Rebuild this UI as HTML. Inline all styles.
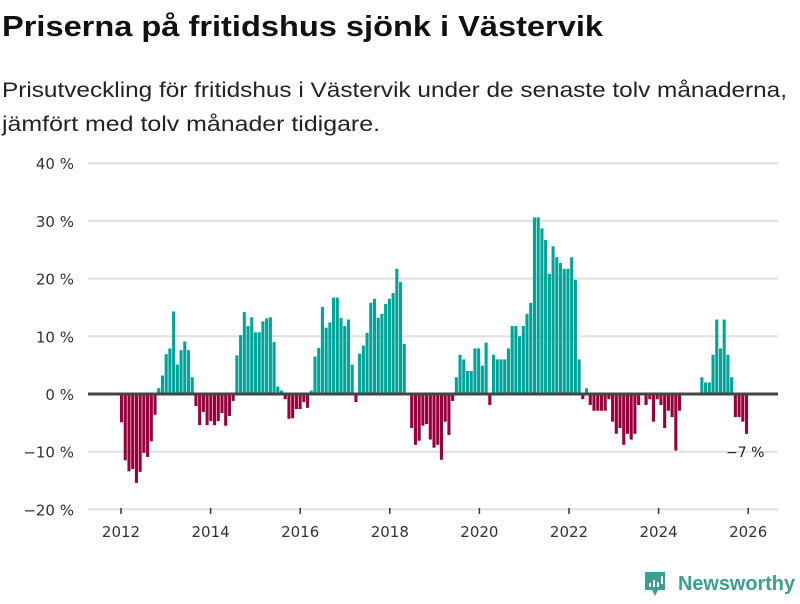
<!DOCTYPE html>
<html><head><meta charset="utf-8"><style>
body{margin:0;width:800px;height:600px;background:#fff;font-family:"DejaVu Sans","Liberation Sans",sans-serif;overflow:hidden}
</style></head><body>
<svg width="800" height="600" xmlns="http://www.w3.org/2000/svg">
<text x="2" y="36" font-size="29" font-weight="bold" fill="#111" textLength="601" lengthAdjust="spacingAndGlyphs" font-family="Liberation Sans">Priserna på fritidshus sjönk i Västervik</text>
<text x="2" y="97" font-size="21" fill="#222" textLength="785" lengthAdjust="spacingAndGlyphs" font-family="Liberation Sans">Prisutveckling för fritidshus i Västervik under de senaste tolv månaderna,</text>
<text x="2" y="131" font-size="21" fill="#222" textLength="378" lengthAdjust="spacingAndGlyphs" font-family="Liberation Sans">jämfört med tolv månader tidigare.</text>
<g id="grid"></g>
<g id="bars"></g>
<g id="xaxis"></g>
<line x1="88" x2="778" y1="394" y2="394" stroke="#444" stroke-width="3"/>
<text x="726" y="457" font-size="14" fill="#222">−7 %</text>
<g>
<path d="M645 572 h20 v18 h-7 l-3 6 l-3 -6 h-7z" fill="#3a9e93"/>
<rect x="649" y="583" width="2" height="4" fill="#fff"/><rect x="653" y="580" width="2" height="7" fill="#fff"/><rect x="657" y="582" width="2" height="5" fill="#fff"/><rect x="661" y="576" width="2" height="8" fill="#fff"/>
<text x="678" y="590" font-size="20" font-weight="bold" fill="#3a9e93" font-family="Liberation Sans" textLength="117" lengthAdjust="spacingAndGlyphs">Newsworthy</text>
</g>
</svg>
<script>
const yTicks=[40,30,20,10,0,-10,-20];
const years=[2012,2014,2016,2018,2020,2022,2024,2026];
const values=[-4.9,-11.5,-13.4,-13,-15.4,-13.5,-10.2,-10.9,-8.2,-3.6,
1.0,3.2,6.9,7.9,14.3,5.1,7.6,9.1,7.6,2.9,
-2.1,-5.4,-3.1,-5.4,-4.7,-5.4,-4.7,-3.3,-5.5,-3.8,-1.2,
6.7,10.2,14.2,11.8,13.3,10.7,10.7,12.6,13.1,13.3,9,1.3,0.6,
-0.9,-4.3,-4.2,-2.6,-2.6,-1.4,-2.4,
0.6,6.5,8.0,15.1,11.5,12.4,16.7,16.7,13.2,11.8,12.9,5.1,-1.4,7.0,8.4,10.6,15.8,16.5,13.2,13.9,15.6,16.5,17.5,21.7,19.4,8.7,0,
-5.9,-8.8,-8.1,-5.5,-5.2,-7.9,-9.3,-8.8,-11.4,-4.8,-7.1,-1.2,
2.9,6.8,6.0,4.0,4.0,7.9,7.9,4.9,8.9,-1.9,6.8,6.0,6.0,6.0,7.9,11.8,11.8,10.0,11.8,13.9,15.8,30.6,30.6,28.7,26.7,20.8,25.6,23.7,22.7,21.7,21.7,23.7,19.8,6.0,
-0.9,1.0,-1.9,-2.9,-2.9,-2.9,-2.9,-0.9,-4.8,-6.9,-5.9,-8.8,-6.9,-7.9,-6.9,-1.9,0,-1.9,-0.9,-4.8,-0.9,-1.9,-5.9,-2.9,-4.0,-9.8,-2.9,
0,0,0,0,0,2.9,2.0,2.0,6.8,12.9,7.9,12.9,6.8,2.9,-4.0,-4.0,-4.8,-6.9];
const NS="http://www.w3.org/2000/svg";
const y=v=>394-v*5.77;
const x=i=>120+i*3.72;
const xYear=yr=>121+(yr-2012)*44.8;
function mk(t,a,p){const e=document.createElementNS(NS,t);for(const k in a)e.setAttribute(k,a[k]);p.appendChild(e);return e;}
const grid=document.getElementById('grid');
yTicks.forEach(v=>{
 const l=mk('line',{x1:88,x2:778,y1:y(v),y2:y(v),stroke:'#e0e0e0','stroke-width':2},grid);
 
 
 const t=mk('text',{x:74,y:y(v)+6,'font-size':15,'text-anchor':'end',fill:'#333'},grid);
 t.textContent=(v<0?'−'+(-v):v)+' %';
 
 
});
const bars=document.getElementById('bars');
values.forEach((v,i)=>{
 if(v===0)return;
 const r=mk('rect',{x:x(i),y:Math.min(y(v),394),width:3.1,height:Math.abs(y(v)-394),fill:v>0?'#00a59a':'#99003c'},bars);
 
 
});
const xa=document.getElementById('xaxis');
years.forEach(yr=>{
 const l=mk('line',{x1:xYear(yr),x2:xYear(yr),y1:508,y2:514,stroke:'#333','stroke-width':1.5},xa);
 
 
 const t=mk('text',{x:xYear(yr),y:537,'font-size':15,'text-anchor':'middle',fill:'#333'},xa);
 t.textContent=yr;
 
 
});
</script>
</body></html>
